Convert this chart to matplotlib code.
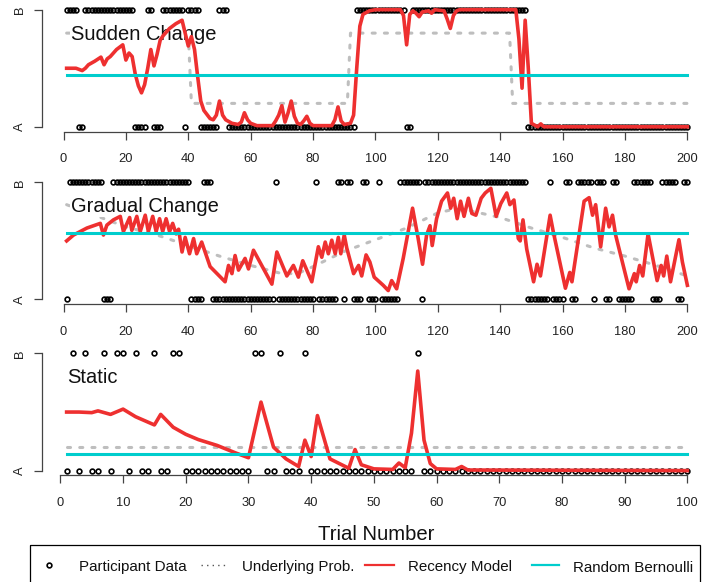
import numpy as np
import matplotlib.pyplot as plt
from matplotlib.patches import Rectangle

plt.rcParams['font.family'] = ['Liberation Sans', 'DejaVu Sans']

# participant choices, alternating run lengths (first run letter given)
sudden_first = 'B'
sudden_runs = [4, 2, 16, 4, 2, 3, 7, 1, 4, 6, 3, 41, 16, 2, 37, 52]
gradual_first = 'A'
gradual_runs = [1, 11, 3, 25, 4, 3, 20, 1, 12, 1, 6, 2, 1, 2, 3, 2, 3, 1, 6, 7,
                1, 33, 7, 1, 4, 2, 2, 5, 1, 3, 2, 2, 5, 6, 3, 5, 2, 2]
static_first = 'A'
static_runs = [1, 1, 1, 1, 2, 1, 1, 2, 1, 1, 2, 1, 2, 2, 11, 2, 2, 1, 3, 1, 17, 1, 43]

# underlying probability of B
sudden_prob_t = [1, 40, 41, 91, 92, 143, 144, 200]
sudden_prob_p = [0.8, 0.8, 0.2, 0.2, 0.8, 0.8, 0.2, 0.2]
gradual_prob_t = [1, 10, 20, 30, 40, 50, 60, 70, 75, 80, 90, 100, 110, 120, 125,
                  130, 140, 150, 160, 170, 180, 190, 200]
gradual_prob_p = [0.81, 0.72, 0.62, 0.55, 0.46, 0.37, 0.29, 0.22, 0.22, 0.28, 0.41,
                  0.51, 0.61, 0.74, 0.77, 0.76, 0.70, 0.61, 0.53, 0.44, 0.37, 0.29, 0.20]
static_prob_t = [1, 100]
static_prob_p = [0.2, 0.2]

# recency model predictions
sudden_rec_t = [1, 2, 3, 4, 5, 6, 7, 8, 10, 12, 13, 14, 15, 17, 19, 20, 21, 22, 23, 24,
                25, 26, 27, 28, 29, 30, 31, 32, 34, 36, 38, 39, 40, 41, 42, 43, 44, 45,
                47, 48, 49, 50, 51, 52, 54, 56, 57, 58, 59, 60, 62, 67, 68, 69, 70, 71,
                72, 73, 74, 75, 76, 77, 78, 79, 80, 86, 87, 88, 89, 90, 92, 93, 94, 95,
                96, 98, 100, 108, 109, 110, 111, 112, 113, 114, 115, 117, 118, 119, 122,
                123, 124, 125, 126, 127, 145, 146, 147, 148, 149, 150, 152, 153, 154, 200]
sudden_rec_p = [0.50, 0.50, 0.50, 0.50, 0.49, 0.48, 0.50, 0.53, 0.56, 0.595, 0.53, 0.58,
                0.60, 0.66, 0.70, 0.57, 0.63, 0.60, 0.45, 0.35, 0.29, 0.36, 0.50, 0.66,
                0.52, 0.62, 0.74, 0.78, 0.84, 0.88, 0.91, 0.80, 0.69, 0.77, 0.66, 0.43,
                0.22, 0.14, 0.07, 0.06, 0.10, 0.22, 0.10, 0.06, 0.03, 0.02, 0.04, 0.12,
                0.06, 0.03, 0.01, 0.01, 0.05, 0.10, 0.18, 0.04, 0.12, 0.22, 0.09, 0.03,
                0.02, 0.05, 0.09, 0.03, 0.01, 0.01, 0.06, 0.17, 0.05, 0.02, 0.03, 0.10,
                0.50, 0.86, 0.96, 0.99, 1.0, 1.0, 0.95, 0.70, 0.96, 0.99, 0.97, 0.94,
                0.98, 0.99, 0.97, 1.0, 0.99, 0.92, 0.84, 0.95, 0.99, 1.0, 1.0, 0.75,
                0.33, 0.91, 0.50, 0.03, 0.0, 0.025, 0.0, 0.0]

gradual_rec_t = [1, 3.2, 7.5, 11.8, 12.8, 13.9, 16, 18.2, 19.2, 21.2, 21.9, 23.5, 24.6,
                 26.2, 27.2, 28.6, 29.7, 30.8, 31.8, 32.9, 34, 35, 36.1, 36.9, 38, 39,
                 40.4, 41.7, 42.7, 44.3, 47, 51.8, 52.9, 54, 55, 56.1, 58.2, 59.3, 60.9,
                 66.8, 68.4, 71.6, 73.7, 75.3, 76.7, 79.6, 81.7, 82.8, 83.9, 84.9, 86,
                 87.1, 88.1, 88.9, 90, 90.8, 93, 94.6, 95.6, 97, 98.2, 99.6, 102.5, 104.1,
                 105.2, 106.8, 108.9, 111.9, 113.7, 115.1, 116.4, 117.5, 118.2, 119.6,
                 121.2, 123.1, 124.1, 125.1, 126.2, 127.3, 128.4, 129.8, 130.9, 132.2,
                 133.9, 135.2, 137, 138.7, 140.2, 142.1, 143.1, 144.4, 145.8, 146.4,
                 147.3, 148.5, 150.7, 151.8, 152.9, 156, 157, 160.9, 162.3, 163, 166.9,
                 168.5, 169.6, 170.6, 172.2, 173.8, 174.9, 176, 177, 181.3, 183, 183.6,
                 184.7, 185.7, 187.4, 190.3, 191.6, 192.4, 193.4, 194.6, 197.3, 198.4, 200]
gradual_rec_p = [0.50, 0.55, 0.61, 0.65, 0.55, 0.635, 0.68, 0.71, 0.58, 0.70, 0.59, 0.71,
                 0.58, 0.72, 0.58, 0.71, 0.58, 0.69, 0.58, 0.69, 0.58, 0.65, 0.56, 0.60,
                 0.405, 0.53, 0.39, 0.52, 0.39, 0.49, 0.28, 0.15, 0.29, 0.22, 0.375, 0.25,
                 0.35, 0.26, 0.42, 0.13, 0.405, 0.20, 0.29, 0.19, 0.33, 0.15, 0.45, 0.36,
                 0.49, 0.39, 0.506, 0.39, 0.53, 0.39, 0.55, 0.44, 0.22, 0.29, 0.20, 0.38,
                 0.32, 0.19, 0.12, 0.075, 0.16, 0.09, 0.35, 0.78, 0.52, 0.30, 0.55, 0.63,
                 0.46, 0.69, 0.84, 0.91, 0.78, 0.865, 0.69, 0.84, 0.71, 0.865, 0.735, 0.72,
                 0.865, 0.91, 0.95, 0.71, 0.82, 0.91, 0.81, 0.85, 0.52, 0.50, 0.68, 0.43,
                 0.15, 0.30, 0.20, 0.72, 0.58, 0.095, 0.23, 0.15, 0.84, 0.87, 0.72, 0.81,
                 0.45, 0.78, 0.62, 0.72, 0.55, 0.09, 0.22, 0.15, 0.29, 0.20, 0.56, 0.16,
                 0.29, 0.20, 0.37, 0.15, 0.51, 0.32, 0.12]

static_rec_t = [1, 3, 5, 6, 8, 10, 12, 15, 16, 18, 20, 22, 25, 28, 30, 32, 34, 36, 38, 39,
                40, 41, 43, 46, 47, 48, 50, 53, 54, 55, 56, 57, 58, 59, 60, 63, 64, 65, 100]
static_rec_p = [0.50, 0.50, 0.495, 0.51, 0.48, 0.525, 0.46, 0.39, 0.48, 0.37, 0.31, 0.265,
                0.215, 0.15, 0.11, 0.585, 0.20, 0.10, 0.035, 0.26, 0.12, 0.47, 0.10, 0.02,
                0.18, 0.05, 0.015, 0.01, 0.065, 0.025, 0.32, 0.85, 0.26, 0.06, 0.015, 0.01,
                0.035, 0.005, 0.0]

titles = ['Sudden Change', 'Gradual Change', 'Static']


def expand(first, runs):
    cur = 1 if first == 'B' else 0
    out = []
    for n in runs:
        out += [cur] * n
        cur = 1 - cur
    return np.array(out)


RED = '#EE3030'
CYAN = '#00CDCD'
GREY = '#BEBEBE'
AXC = '#444444'

W, H = 713, 582
fig = plt.figure(figsize=(W / 100, H / 100), dpi=100)

# (top, bottom) of each plot region in pixels
rows = [(5.0, 131.5), (177.8, 304.0), (348.8, 475.3)]
panels = [
    (sudden_first, sudden_runs, sudden_prob_t, sudden_prob_p, sudden_rec_t, sudden_rec_p, 2.3),
    (gradual_first, gradual_runs, gradual_prob_t, gradual_prob_p, gradual_rec_t, gradual_rec_p, 2.3),
    (static_first, static_runs, static_prob_t, static_prob_p, static_rec_t, static_rec_p, 1.1),
]

for (top, bot), (first, runs, pt, pp, rt, rp, tx), title in zip(rows, panels, titles):
    ax = fig.add_axes([41.8 / W, 1 - bot / H, (712.2 - 41.8) / W, (bot - top) / H])
    ax.patch.set_alpha(0)
    choice = expand(first, runs)
    n = len(choice)
    trials = np.arange(1, n + 1)

    ax.plot(trials, choice, 'o', ms=3.4, mfc='none', mec='black', mew=1.2, zorder=2)
    ax.plot(pt, pp, color=GREY, lw=2.2, ls=(0, (1, 3)), dash_capstyle='round', zorder=3)
    ax.plot(rt, rp, color=RED, lw=2.6, solid_joinstyle='round', zorder=4)
    ax.plot([1, n], [choice.mean()] * 2, color=CYAN, lw=2.2, zorder=5)

    # panel name sits on a white patch that covers the dotted curve
    ax.text(tx, 0.745, title, fontsize=14.5, ha='left', va='baseline', color='#111111',
            zorder=3.5, bbox=dict(facecolor='white', edgecolor='none', pad=0.6))

    ext = (n - 1) * 0.04
    ax.set_xlim(1 - ext, n + ext)
    ax.set_ylim(-0.04, 1.04)
    for s in ['top', 'right']:
        ax.spines[s].set_visible(False)
    ax.spines['bottom'].set_bounds(0, n)
    ax.spines['left'].set_bounds(0, 1)
    for s in ['bottom', 'left']:
        ax.spines[s].set_color(AXC)
        ax.spines[s].set_linewidth(0.9)
    step = 20 if n == 200 else 10
    ax.set_xticks(np.arange(0, n + 1, step))
    ax.set_yticks([0, 1])
    ax.set_yticklabels(['A', 'B'], rotation=90, va='center')
    ax.tick_params(axis='both', direction='out', length=5.8, width=0.9, color=AXC,
                   labelsize=9.3, labelcolor='#222222')
    ax.tick_params(axis='x', pad=9.8)
    ax.tick_params(axis='y', pad=5.5)

fig.text(376.5 / W, 1 - 540 / H, 'Trial Number', fontsize=14.6, ha='center',
         va='baseline', color='#111111')

# legend strip along the bottom
lg = fig.add_axes([0, 0, 1, 1])
lg.set_xlim(0, W)
lg.set_ylim(H, 0)
lg.axis('off')
lg.patch.set_alpha(0)
lg.add_patch(Rectangle((30, 545), 670, 60, fill=False, ec='black', lw=0.9, clip_on=False))
ly = 564.5
lg.plot([49.3], [ly], 'o', ms=3.4, mfc='none', mec='black', mew=1.2)
lg.plot([201, 227], [ly, ly], color='#555555', lw=1.0, ls=(0, (1, 3)))
lg.plot([365, 394], [ly, ly], color=RED, lw=1.6)
lg.plot([532, 559], [ly, ly], color=CYAN, lw=1.6)
for x, s in [(78.6, 'Participant Data'), (242, 'Underlying Prob.'),
             (408, 'Recency Model'), (573, 'Random Bernoulli')]:
    lg.text(x, 571.5, s, fontsize=10.9, ha='left', va='baseline', color='#111111')

fig.savefig('out.png', dpi=100)
